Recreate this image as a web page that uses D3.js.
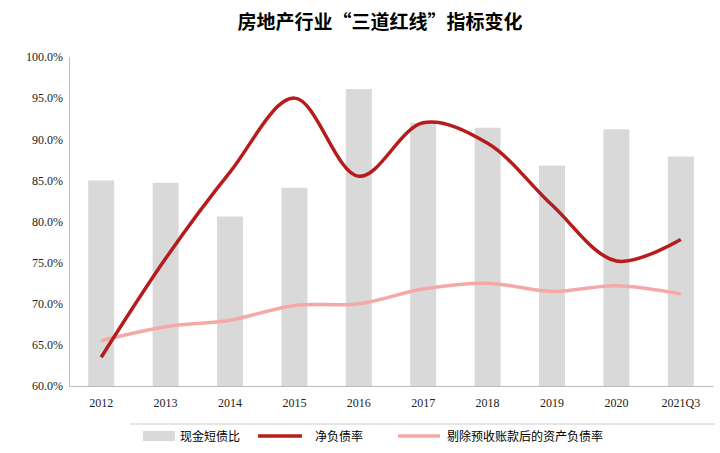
<!DOCTYPE html>
<html><head><meta charset="utf-8">
<script src="https://cdn.jsdelivr.net/npm/d3@7"></script>
<style>body{margin:0;background:#fff}</style>
</head><body><div id="chart"></div>
<script>
var years = ["2012","2013","2014","2015","2016","2017","2018","2019","2020","2021Q3"]
var cashRatio = [85.0, 84.7, 80.6, 84.1, 96.1, 92.0, 91.4, 86.8, 91.2, 87.9]
var netDebt = [63.5, 75.5, 86.0, 95.0, 85.5, 92.0, 89.5, 82.0, 75.2, 77.8]
var adjDebt = [65.5, 67.2, 68.0, 69.8, 70.0, 71.8, 72.5, 71.5, 72.2, 71.2]
var yTicks = [60, 65, 70, 75, 80, 85, 90, 95, 100]

var width = 720, height = 453
var svg = d3.select("#chart").append("svg").attr("width", width).attr("height", height)

svg.append("text").text("房地产行业“三道红线”指标变化")
    .attr("x", 380).attr("y", 29).attr("text-anchor", "middle")
    .style("font-family", "Noto Sans CJK SC").style("font-weight", "bold").style("font-size", "19px")

var x = d3.scaleBand().domain(years).range([69, 713])
var y = d3.scaleLinear().domain([60, 100]).range([386, 57])

svg.append("g").attr("transform", "translate(0,386)")
    .call(d3.axisBottom(x).tickSize(0).tickPadding(12))
    .call(g => g.select(".domain").attr("stroke", "#bbb"))
    .selectAll("text").style("font-family", "Liberation Serif").style("font-size", "12px").attr("fill", "#222")

svg.append("g").attr("transform", "translate(69,0)")
    .call(d3.axisLeft(y).tickValues(yTicks).tickFormat(d => d.toFixed(1) + "%").tickSize(0).tickPadding(6))
    .call(g => g.select(".domain").attr("stroke", "#bbb"))
    .selectAll("text").style("font-family", "Liberation Serif").style("font-size", "12px").attr("fill", "#222")

var bw = 26
svg.selectAll(".bar").data(years).enter().append("rect")
    .attr("x", d => x(d) + x.bandwidth() / 2 - bw / 2)
    .attr("y", (d, i) => y(cashRatio[i]))
    .attr("width", bw)
    .attr("height", (d, i) => y(60) - y(cashRatio[i]))
    .attr("fill", "#d9d9d9")

var line = d3.line().x((d, i) => x(years[i]) + x.bandwidth() / 2).y(d => y(d)).curve(d3.curveCatmullRom)
svg.append("path").attr("d", line(adjDebt)).attr("fill", "none").attr("stroke", "#f4a9a8").attr("stroke-width", 3.5)
svg.append("path").attr("d", line(netDebt)).attr("fill", "none").attr("stroke", "#b71c1c").attr("stroke-width", 3.5)

// legend
var lg = svg.append("g").style("font-family", "Noto Sans CJK SC").style("font-size", "12px")
lg.append("line").attr("x1", 130).attr("x2", 715).attr("y1", 424).attr("y2", 424).attr("stroke", "#ccc")
lg.append("rect").attr("x", 143).attr("y", 431).attr("width", 32).attr("height", 10).attr("fill", "#d9d9d9")
lg.append("text").text("现金短债比").attr("x", 180).attr("y", 441)
lg.append("line").attr("x1", 258).attr("x2", 302).attr("y1", 436).attr("y2", 436).attr("stroke", "#b71c1c").attr("stroke-width", 3.5)
lg.append("text").text("净负债率").attr("x", 315).attr("y", 441)
lg.append("line").attr("x1", 398).attr("x2", 440).attr("y1", 436).attr("y2", 436).attr("stroke", "#f4a9a8").attr("stroke-width", 3.5)
lg.append("text").text("剔除预收账款后的资产负债率").attr("x", 447).attr("y", 441)
</script></body></html>
